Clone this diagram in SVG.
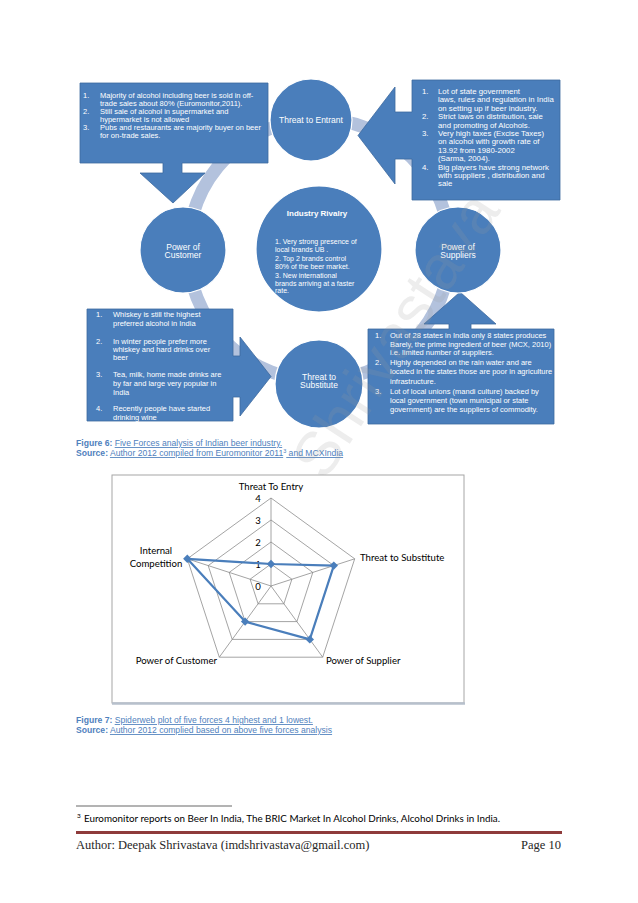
<svg xmlns="http://www.w3.org/2000/svg" xmlns:xlink="http://www.w3.org/1999/xlink" width="638" height="903" viewBox="0 0 638 903">
<defs>
<style>
.bx{fill:#4a7ebb;stroke:#3d6a9e;stroke-width:0.8}
.cir{fill:#4a7ebb;stroke:#ffffff;stroke-width:1.2}
.t{font-family:"Liberation Sans",Arial,sans-serif;fill:#ffffff}
.s75{font-size:7.5px}
.s78{font-size:7.8px}
.cl{font-family:"Liberation Sans",Arial,sans-serif;font-size:8.5px;fill:#ffffff;text-anchor:middle}
.cap{font-family:"Liberation Sans",Arial,sans-serif;font-size:8.6px;fill:#4f81bd}
.u{text-decoration:underline}
.b{font-weight:bold}
.grid{fill:none;stroke:#868686;stroke-width:0.75}
.lab{font-family:Lato,"Liberation Sans",sans-serif;font-size:9.6px;fill:#000000}
</style>
<path id="dm" d="M0,-4.2 L4.2,0 L0,4.2 L-4.2,0 Z" fill="#4a7ebb"/>
</defs>
<rect x="0" y="0" width="638" height="903" fill="#ffffff"/>

<g id="connectors">
<circle cx="319" cy="250" r="131" fill="none" stroke="#b3c2dd" stroke-width="13"/>
</g>

<g id="node-entrant-callout">
<path class="bx" d="M80,83 H268 V163 H182 V173 H205 L173,203 L140,173 H163 V163 H80 Z"/>
<g class="t s75">
<text x="83" y="98">1.</text><text x="100" y="98">Majority of alcohol including beer is sold in off-</text>
<text x="100" y="106">trade sales about 80% (Euromonitor,2011).</text>
<text x="83" y="114">2.</text><text x="100" y="114">Still sale of alcohol in supermarket and</text>
<text x="100" y="122">hypermarket is not allowed</text>
<text x="83" y="130">3.</text><text x="100" y="130">Pubs and restaurants are majority buyer on beer</text>
<text x="100" y="138">for on-trade sales.</text>
</g>
</g>

<g id="node-suppliers-callout">
<path class="bx" d="M412,80 H560 V200 H412 V159 H395 V184 L358,135.5 L395,87 V112 H412 Z"/>
<g class="t s78">
<text x="422" y="94">1.</text><text x="438" y="94">Lot of state government</text>
<text x="438" y="102.4">laws, rules and regulation in India</text>
<text x="438" y="110.8">on setting up if beer industry.</text>
<text x="422" y="119.2">2.</text><text x="438" y="119.2">Strict laws on distribution, sale</text>
<text x="438" y="127.6">and promoting of Alcohols.</text>
<text x="422" y="136">3.</text><text x="438" y="136">Very high taxes (Excise Taxes)</text>
<text x="438" y="144.4">on alcohol with growth rate of</text>
<text x="438" y="152.8">13.92 from 1980-2002</text>
<text x="438" y="161.2">(Sarma, 2004).</text>
<text x="422" y="169.6">4.</text><text x="438" y="169.6">Big players have strong network</text>
<text x="438" y="178">with suppliers , distribution and</text>
<text x="438" y="186.4">sale</text>
</g>
</g>

<g id="node-customer-callout">
<path class="bx" d="M87,309 H233 V356 H240 V337 L271,376.5 L240,416 V397 H233 V421 H87 Z"/>
<g class="t s75">
<text x="96" y="316.7">1.</text><text x="113" y="316.7">Whiskey is still the highest</text>
<text x="113" y="325.7">preferred alcohol in India</text>
<text x="96" y="343.7">2.</text><text x="113" y="343.7">In winter people prefer more</text>
<text x="113" y="351.7">whiskey and hard drinks over</text>
<text x="113" y="359.7">beer</text>
<text x="96" y="376.7">3.</text><text x="113" y="376.7">Tea, milk, home made drinks are</text>
<text x="113" y="385.7">by far and large very popular in</text>
<text x="113" y="394.7">India</text>
<text x="96" y="410.7">4.</text><text x="113" y="410.7">Recently people have started</text>
<text x="113" y="419.7">drinking wine</text>
</g>
</g>

<g id="node-substitute-callout">
<path class="bx" d="M368,329 H449 V324 H424 L460,292 L496,324 H471 V329 H554 V424 H368 Z"/>
<g class="t s75">
<text x="375" y="338.4">1.</text><text x="390" y="338.4">Out of 28 states in India only 8 states produces</text>
<text x="390" y="347">Barely, the prime ingredient of beer (MCX, 2010)</text>
<text x="390" y="355.4">i.e. limited number of suppliers.</text>
<text x="375" y="365.4">2.</text><text x="390" y="365.4">Highly depended on the rain water and are</text>
<text x="390" y="374.4">located in the states those are poor in agriculture</text>
<text x="390" y="383.7">infrastructure.</text>
<text x="375" y="393.7">3.</text><text x="390" y="393.7">Lot of local unions (mandi culture) backed by</text>
<text x="390" y="402.7">local government (town municipal or state</text>
<text x="390" y="412">government) are the suppliers of commodity.</text>
</g>
</g>

<g id="node-threat-entrant">
<circle class="cir" cx="311" cy="120" r="41"/>
<text class="cl" x="311" y="123">Threat to Entrant</text>
</g>
<g id="node-power-customer">
<circle class="cir" cx="183" cy="250" r="43"/>
<text class="cl" x="183" y="249.5">Power of</text>
<text class="cl" x="183" y="258">Customer</text>
</g>
<g id="node-power-suppliers">
<circle class="cir" cx="458" cy="250" r="43"/>
<text class="cl" x="458" y="249.5">Power of</text>
<text class="cl" x="458" y="258">Suppliers</text>
</g>
<g id="node-threat-substitute">
<circle class="cir" cx="319" cy="384" r="44"/>
<text class="cl" x="319" y="379.5">Threat to</text>
<text class="cl" x="319" y="388">Substitute</text>
</g>
<g id="node-industry-rivalry">
<circle class="cir" cx="319" cy="249" r="63"/>
<text class="t b" x="317" y="216" font-size="8" text-anchor="middle">Industry Rivalry</text>
<g class="t" font-size="7">
<text x="275" y="244">1. Very strong presence of</text>
<text x="275" y="251.5">local brands UB .</text>
<text x="275" y="261">2. Top 2 brands control</text>
<text x="275" y="268.5">80% of the beer market.</text>
<text x="275" y="278">3. New international</text>
<text x="275" y="285.5">brands arriving at a faster</text>
<text x="275" y="293">rate.</text>
</g>
</g>

<g id="caption-fig6">
<text class="cap" x="76" y="446"><tspan class="b">Figure 6:</tspan> <tspan class="u">Five Forces analysis of Indian beer industry.</tspan></text>
<text class="cap" x="76" y="456"><tspan class="b">Source:</tspan> <tspan class="u">Author 2012 compiled from Euromonitor 2011</tspan><tspan font-size="5.5" dy="-3">3</tspan><tspan dy="3" class="u"> and MCXIndia</tspan></text>
</g>

<g id="spider-chart">
<rect x="112" y="475" width="352" height="228" fill="#ffffff" stroke="#a6a6a6" stroke-width="1"/>
<line x1="112" y1="703.5" x2="465" y2="703.5" stroke="#b7c0cc" stroke-width="2.5"/>
<polygon class="grid" points="271,498 354.7,558.8 322.7,657.2 219.3,657.2 187.3,558.8"/>
<polygon class="grid" points="271,520 333.8,565.6 309.8,639.4 232.2,639.4 208.2,565.6"/>
<polygon class="grid" points="271,542 312.8,572.4 296.9,621.6 245.1,621.6 229.2,572.4"/>
<polygon class="grid" points="271,564 291.9,579.2 283.9,603.8 258.1,603.8 250.1,579.2"/>
<g class="grid">
<line x1="271" y1="586" x2="271" y2="498"/>
<line x1="271" y1="586" x2="354.7" y2="558.8"/>
<line x1="271" y1="586" x2="322.7" y2="657.2"/>
<line x1="271" y1="586" x2="219.3" y2="657.2"/>
<line x1="271" y1="586" x2="187.3" y2="558.8"/>
</g>
<g class="lab" font-size="10" text-anchor="middle">
<text x="258" y="501.5">4</text>
<text x="258" y="523.5">3</text>
<text x="258" y="545.5">2</text>
<text x="258" y="567.5">1</text>
<text x="258" y="590">0</text>
</g>
<polygon points="271,564 333.8,565.6 309.8,639.4 245.1,621.6 187.3,558.8" fill="none" stroke="#4a7ebb" stroke-width="2.2" stroke-linejoin="round"/>
<use xlink:href="#dm" x="271" y="564"/>
<use xlink:href="#dm" x="333.8" y="565.6"/>
<use xlink:href="#dm" x="309.8" y="639.4"/>
<use xlink:href="#dm" x="245.1" y="621.6"/>
<use xlink:href="#dm" x="187.3" y="558.8"/>
<text class="lab" x="271" y="490" text-anchor="middle">Threat To Entry</text>
<text class="lab" x="360" y="561">Threat to Substitute</text>
<text class="lab" x="326" y="663.5">Power of Supplier</text>
<text class="lab" x="217" y="663.5" text-anchor="end">Power of Customer</text>
<text class="lab" x="156" y="554" text-anchor="middle">Internal</text>
<text class="lab" x="156" y="567" text-anchor="middle">Competition</text>
</g>

<g id="caption-fig7">
<text class="cap" x="76" y="723"><tspan class="b">Figure 7:</tspan> <tspan class="u">Spiderweb plot of five forces 4 highest and 1 lowest.</tspan></text>
<text class="cap" x="76" y="733"><tspan class="b">Source:</tspan> <tspan class="u">Author 2012 complied based on above five forces analysis</tspan></text>
</g>

<g id="footnote">
<line x1="76" y1="806" x2="232" y2="806" stroke="#000000" stroke-width="0.6"/>
<text x="77" y="818" font-family="Lato,'Liberation Sans',sans-serif" font-size="6.5" fill="#000000">3</text>
<text x="84" y="822" font-family="Lato,'Liberation Sans',sans-serif" font-size="10" fill="#000000" textLength="416" lengthAdjust="spacingAndGlyphs">Euromonitor reports on Beer In India, The BRIC Market In Alcohol Drinks, Alcohol Drinks in India.</text>
</g>

<g id="footer">
<line x1="76" y1="832.5" x2="562" y2="832.5" stroke="#8e3b3b" stroke-width="3"/>
<text x="76" y="849" font-family="'Liberation Serif','Times New Roman',serif" font-size="12.5" fill="#262626">Author: Deepak Shrivastava (imdshrivastava@gmail.com)</text>
<text x="561" y="849" font-family="'Liberation Serif','Times New Roman',serif" font-size="12.5" fill="#262626" text-anchor="end">Page 10</text>
</g>

<text x="0" y="0" transform="translate(325,482) rotate(-57)" font-family="'Liberation Sans',Arial,sans-serif" font-size="62" fill="#9a9a9a" fill-opacity="0.18">Shrivastava</text>
</svg>
